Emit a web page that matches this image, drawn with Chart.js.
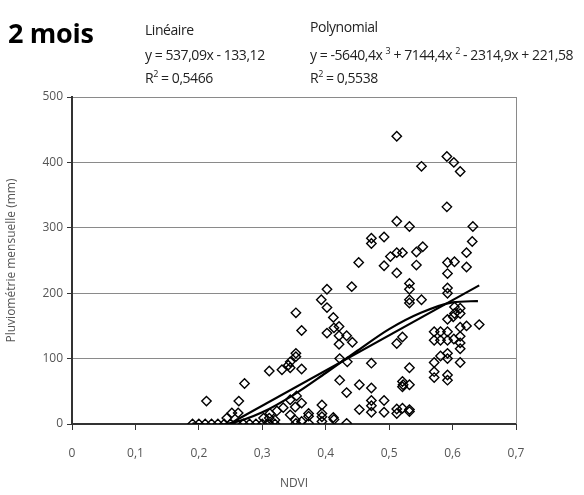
<!DOCTYPE html>
<html>
<head>
<meta charset="utf-8">
<script src="https://cdn.jsdelivr.net/npm/chart.js@4/dist/chart.umd.min.js"></script>
<style>
  html,body{margin:0;padding:0;background:#fff;}
  #wrap{position:relative;width:584px;height:495px;font-family:"Open Sans",sans-serif;}
  #c{position:absolute;left:0;top:0;}
  .t{position:absolute;white-space:nowrap;color:#222;font-size:14px;letter-spacing:-0.45px;line-height:16px;}
  .t sup{font-size:9px;vertical-align:top;position:relative;top:-4px;}
  #title{position:absolute;left:8px;top:19px;font-size:27px;line-height:27px;font-weight:bold;color:#000;letter-spacing:-0.3px;}
</style>
</head>
<body>
<div id="wrap">
  <canvas id="c" width="584" height="495"></canvas>
  <div id="title">2 mois</div>
  <div class="t" style="left:145px;top:22px;">Linéaire</div>
  <div class="t" style="left:145px;top:47px;">y = 537,09x - 133,12</div>
  <div class="t" style="left:145px;top:70px;">R<sup>2</sup> = 0,5466</div>
  <div class="t" style="left:310px;top:19px;">Polynomial</div>
  <div class="t" style="left:310px;top:47px;">y = -5640,4x <sup>3</sup> + 7144,4x <sup>2</sup> - 2314,9x + 221,58</div>
  <div class="t" style="left:310px;top:70px;">R<sup>2</sup> = 0,5538</div>
</div>
<script>
// Observations: NDVI (x) and monthly rainfall in mm (y)
const ndviValues = [
  0.19,0.20,0.21,0.22,0.23,0.24,0.25,0.26,0.27,0.28,0.29,0.30,0.31,0.32,0.353,0.362,0.373,0.433,
  0.212,0.263,0.272,0.244,0.252,0.262,0.302,0.311,0.312,0.323,0.32,0.333,0.344,0.344,0.354,0.352,0.362,0.352,
  0.311,0.331,0.341,0.344,0.344,0.353,0.353,0.362,0.353,0.362,
  0.373,0.373,0.394,0.394,0.394,0.394,0.412,0.413,
  0.393,0.402,0.402,0.402,0.412,0.413,0.421,0.421,0.433,0.442,0.421,0.422,0.434,0.422,0.433,0.441,0.452,0.453,0.453,
  0.472,0.472,0.472,0.472,0.472,0.472,0.472,
  0.492,0.492,0.492,0.492,
  0.502,0.512,0.512,0.512,0.512,0.512,0.512,0.512,0.521,0.521,0.521,0.521,0.522,0.521,
  0.532,0.532,0.532,0.532,0.532,0.532,0.532,0.532,0.532,
  0.543,0.553,0.543,0.551,0.551,
  0.571,0.571,0.571,0.571,0.571,
  0.581,0.581,0.581,
  0.591,0.591,0.592,0.592,0.592,0.592,0.592,0.592,0.592,0.592,0.592,0.592,0.592,
  0.602,0.603,0.603,0.603,0.601,0.602,
  0.612,0.612,0.612,0.612,0.612,0.612,0.612,0.612,
  0.622,0.622,0.622,
  0.632,0.631,0.642
];
const rainValues = [
  0,0,0,0,0,0,0,0,0,0,0,0,0,0,1,4,1,1,
  35,35,62,9,17,17,9,9,16,20,6,25,37,14,43,26,32,6,
  81,83,90,86,95,108,103,84,170,143,
  16,12,29,16,11,4,10,7,
  190,206,178,139,163,147,149,135,135,125,122,100,95,67,48,210,247,60,22,
  284,276,93,55,36,28,18,
  286,242,36,18,
  256,440,310,262,231,123,23,16,262,133,65,57,60,24,
  302,215,206,190,185,86,60,22,19,
  263,271,243,394,190,
  141,128,94,80,71,
  141,128,104,
  409,332,247,230,208,200,160,141,128,108,100,75,67,
  400,248,179,169,164,130,
  386,177,169,148,134,124,115,94,
  262,240,150,
  302,279,152
];
const linearX = [0.248, 0.642];
const linearY = [0, 212];
// Polynomial trend line
const polyX = [0.19, 0.22, 0.25, 0.30, 0.35, 0.40, 0.45, 0.50, 0.55, 0.60, 0.64];
const polyY = [1, -2, 1, 18, 45, 78, 112, 145, 170, 186, 188];

const xTickValues = [0, 0.1, 0.2, 0.3, 0.4, 0.5, 0.6, 0.7];
const yTickValues = [0, 100, 200, 300, 400, 500];

const pts = ndviValues.map((x, i) => ({x: x, y: rainValues[i]}));
const lin = linearX.map((x, i) => ({x: x, y: linearY[i]}));
const poly = polyX.map((x, i) => ({x: x, y: polyY[i]}));

const borderPlugin = {
  id: 'rightBorder',
  beforeDatasetsDraw(chart) {
    const a = chart.chartArea, ctx = chart.ctx;
    ctx.save();
    ctx.strokeStyle = '#8a8a8a';
    ctx.lineWidth = 1;
    ctx.beginPath();
    ctx.moveTo(Math.round(a.right) + 0.5, a.top);
    ctx.lineTo(Math.round(a.right) + 0.5, a.bottom);
    ctx.stroke();
    ctx.restore();
  }
};

const tickFont = {family: '"Open Sans", sans-serif', size: 12};
new Chart(document.getElementById('c'), {
  type: 'scatter',
  data: {
    datasets: [
      {label: 'Linéaire', data: lin, showLine: true, borderColor: '#000', borderWidth: 2.2, pointRadius: 0, order: 0},
      {label: 'Polynomial', data: poly, showLine: true, tension: 0.4, cubicInterpolationMode: 'monotone', borderColor: '#000', borderWidth: 2.2, pointRadius: 0, order: 1},
      {label: 'Obs', data: pts, pointStyle: 'rectRot', pointRadius: 4.7, borderColor: '#000', borderWidth: 1.4, backgroundColor: 'rgba(255,255,255,0)', order: 2}
    ]
  },
  options: {
    responsive: false,
    animation: false,
    devicePixelRatio: 1,
    layout: {padding: {left: 0, top: 97, right: 68, bottom: 0}},
    plugins: {legend: {display: false}, tooltip: {enabled: false}},
    scales: {
      x: {
        type: 'linear', min: 0, max: 0.7,
        afterBuildTicks(s) { s.ticks = xTickValues.map(v => ({value: v})); },
        afterFit(s) { s.height = 71; },
        ticks: {
          font: tickFont, color: '#555', padding: 16, maxRotation: 0,
          callback: v => v === 0 ? '0' : v.toFixed(1).replace('.', ',')
        },
        grid: {drawOnChartArea: false, tickLength: 6, color: '#333', lineWidth: 1},
        border: {color: '#333', width: 2},
        title: {display: true, text: 'NDVI', font: tickFont, color: '#555', padding: {top: 10}}
      },
      y: {
        type: 'linear', min: 0, max: 500,
        afterBuildTicks(s) { s.ticks = yTickValues.map(v => ({value: v})); },
        afterFit(s) { s.width = 72; },
        ticks: {font: tickFont, color: '#555', padding: 4},
        grid: {color: '#8a8a8a', lineWidth: 1, tickLength: 5, tickColor: '#333'},
        border: {color: '#333', width: 2},
        title: {display: true, text: 'Pluviométrie mensuelle (mm)', font: tickFont, color: '#555', padding: {bottom: 4}}
      }
    }
  },
  plugins: [borderPlugin]
});
</script>
</body>
</html>
